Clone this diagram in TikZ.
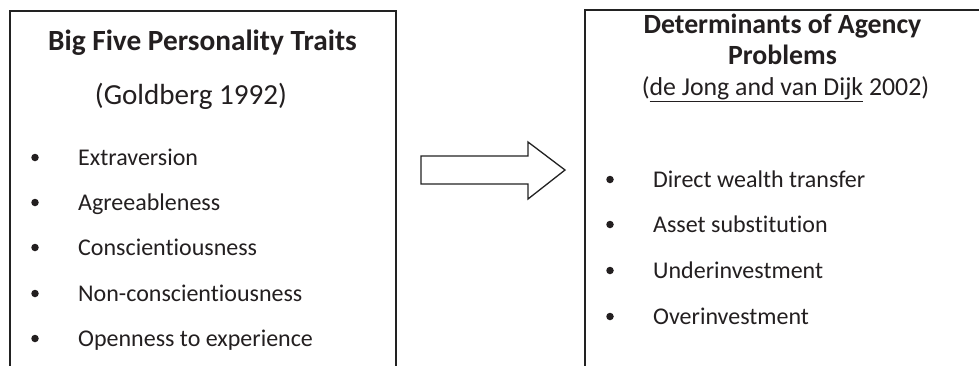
\documentclass[tikz,border=0pt]{standalone}
\usepackage{fontspec}
\setmainfont[Ligatures={NoCommon,NoRare,NoContextual}]{Carlito}
\definecolor{ink}{HTML}{231F20}
\definecolor{frame}{HTML}{222222}
\begin{document}
\begin{tikzpicture}[x=1pt,y=-1pt,
  box/.style={draw=frame,line width=1.8pt,rectangle,anchor=north west,inner sep=0pt},
  ttl/.style={anchor=base,text=ink,inner sep=0pt,font=\fontsize{29.3}{34}\selectfont\bfseries},
  sub/.style={anchor=base,text=ink,inner sep=0pt,font=\fontsize{29.1}{34}\selectfont},
  item/.style={anchor=base west,text=ink,inner sep=0pt,font=\fontsize{24}{28}\selectfont},
  dot/.style={circle,fill=ink,inner sep=0pt,minimum size=7.5pt}]
\useasboundingbox (0,0) rectangle (979,365);
\clip (0,0) rectangle (979,365);
\fill[white] (0,0) rectangle (979,365);
% boxes
\node[box,minimum width=386pt,minimum height=420pt] (left) at (9,10) {};
\node[box,minimum width=398pt,minimum height=420pt] (right) at (584,9) {};
% left titles
\node[ttl] (lt) at (202.5,50) {Big Five Personality Traits};
\node[sub] (ls) at (191,104) {(Goldberg 1992)};
% left items
\foreach \t/\y [count=\i] in {Extraversion/165,Agreeableness/210,Conscientiousness/255,Non-conscientiousness/301,Openness to experience/346}{
  \node[dot] (lb\i) at (35,\y-7.5) {};
  \node[item] (li\i) at (78,\y) {\t};
}
% right titles
\node[ttl,font=\fontsize{27.8}{33}\selectfont\bfseries] (rt1) at (782.5,33) {Determinants of Agency};
\node[ttl,font=\fontsize{27.8}{33}\selectfont\bfseries] (rt2) at (782.5,64) {Problems};
\node[sub,font=\fontsize{25.8}{30}\selectfont] (rs) at (785.5,95) {(\underline{de Jong and van Dijk} 2002)};
% right items
\foreach \t/\y [count=\i] in {Direct wealth transfer/187,Asset substitution/232,Underinvestment/278,Overinvestment/324}{
  \node[dot] (rb\i) at (610,\y-7.5) {};
  \node[item] (ri\i) at (653,\y) {\t};
}
% block arrow
\draw[draw=frame,line width=1.3pt,fill=white,line join=miter]
  (421,156) -- (528,156) -- (528,142) -- (565,170) -- (528,199) -- (528,184) -- (421,184) -- cycle;
\end{tikzpicture}
\end{document}
